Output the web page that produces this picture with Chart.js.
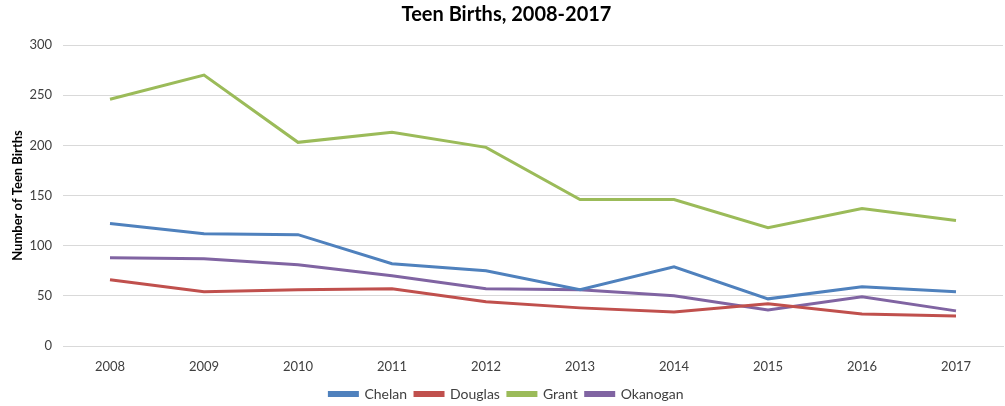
<!DOCTYPE html>
<html>
<head>
<meta charset="utf-8">
<script src="https://cdn.jsdelivr.net/npm/chart.js@4"></script>
<style>
  body { margin: 0; background: #fff; }
  #graphique { display: block; }
</style>
</head>
<body>
<canvas id="graphique" width="1005" height="406"></canvas>
<script>
var annees = ['2008', '2009', '2010', '2011', '2012', '2013', '2014', '2015', '2016', '2017'];
var chelan = [122, 112, 111, 82, 75, 56, 79, 47, 59, 54];
var douglas = [66, 54, 56, 57, 44, 38, 34, 42, 32, 30];
var grant = [246, 270, 203, 213, 198, 146, 146, 118, 137, 125];
var okanogan = [88, 87, 81, 70, 57, 56, 50, 36, 49, 35];
var graduations = [0, 50, 100, 150, 200, 250, 300];

var police = 'Lato, "Liberation Sans", sans-serif';

function serie(nom, valeurs, couleur) {
    return {
        label: nom,
        data: valeurs,
        borderColor: couleur,
        backgroundColor: couleur,
        borderWidth: 3,
        pointRadius: 0,
        pointHoverRadius: 0,
        tension: 0
    };
}

// hauteur fixe pour la légende
var hauteurLegende = {
    id: 'hauteurLegende',
    afterInit: function (chart) {
        var fitOrig = chart.legend.fit;
        chart.legend.fit = function () {
            fitOrig.call(this);
            this.height = 24;
        };
    }
};

var ctx = document.getElementById('graphique').getContext('2d');

var grafique = new Chart(ctx, {
    type: 'line',
    data: {
        labels: annees,
        datasets: [
            serie('Chelan', chelan, '#4F81BD'),
            serie('Douglas', douglas, '#C0504D'),
            serie('Grant', grant, '#9BBB59'),
            serie('Okanogan', okanogan, '#8064A2')
        ]
    },
    plugins: [hauteurLegende],
    options: {
        responsive: false,
        animation: false,
        layout: { padding: { left: 10, right: 2, top: 3, bottom: 3 } },
        plugins: {
            title: {
                display: true,
                text: 'Teen Births, 2008-2017',
                color: '#000',
                font: { family: police, size: 20, weight: 'bold' },
                padding: { top: 0, bottom: 18 }
            },
            legend: {
                position: 'bottom',
                labels: {
                    boxWidth: 28,
                    boxHeight: 3,
                    color: '#404040',
                    font: { family: police, size: 14 },
                    padding: 8
                }
            },
            tooltip: { enabled: false }
        },
        scales: {
            x: {
                offset: true,
                grid: { display: false, drawTicks: false },
                border: { display: true, color: '#d9d9d9', width: 1 },
                ticks: { color: '#404040', font: { family: police, size: 13 }, padding: 13 },
                afterFit: function (axe) { axe.height = 33; }
            },
            y: {
                min: 0,
                max: 300,
                afterBuildTicks: function (axe) {
                    axe.ticks = graduations.map(function (v) { return { value: v }; });
                },
                afterFit: function (axe) { axe.width = 53; },
                grid: { color: '#d9d9d9', lineWidth: 1, drawTicks: false },
                border: { display: false },
                ticks: { color: '#404040', font: { family: police, size: 13 }, padding: 11 },
                title: {
                    display: true,
                    text: 'Number of Teen Births',
                    color: '#000',
                    font: { family: police, size: 13, weight: 'bold' },
                    padding: 0
                }
            }
        }
    }
});
</script>
</body>
</html>
